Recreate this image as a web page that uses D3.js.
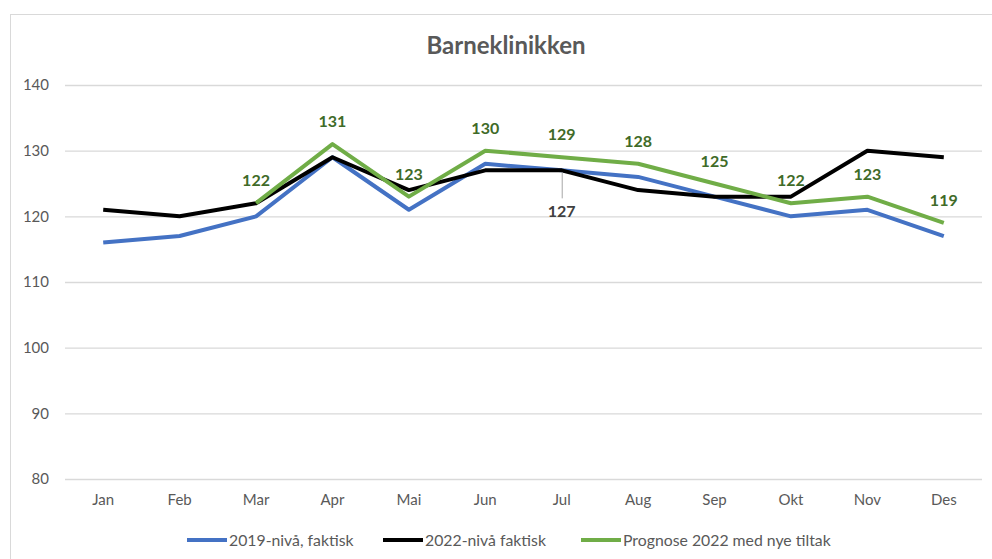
<!DOCTYPE html>
<html lang="no">
<head>
<meta charset="utf-8">
<title>Barneklinikken</title>
<style>
  body { margin: 0; background: #fff; }
  text { font-family: Lato, "Open Sans", Arial, sans-serif; }
  .tick text { fill: #595959; font-size: 15px; }
  .title { fill: #595959; font-size: 24px; font-weight: bold; text-anchor: middle; }
  .lbl { font-size: 16px; font-weight: bold; text-anchor: middle; }
  .legend text { fill: #595959; font-size: 15.8px; }
</style>
</head>
<body>
<div id="chart"></div>
<script src="https://cdn.jsdelivr.net/npm/d3@7"></script>
<script>
var months = ["Jan", "Feb", "Mar", "Apr", "Mai", "Jun", "Jul", "Aug", "Sep", "Okt", "Nov", "Des"];
var yTicks = [80, 90, 100, 110, 120, 130, 140];
var level2019 = [116, 117, 120, 129, 121, 128, 127, 126, 123, 120, 121, 117];
var actual2022 = [121, 120, 122, 129, 124, 127, 127, 124, 123, 123, 130, 129];
var forecast2022 = [null, null, 122, 131, 123, 130, 129, 128, 125, 122, 123, 119];
var seriesNames = ["2019-nivå, faktisk", "2022-nivå faktisk", "Prognose 2022 med nye tiltak"];
var seriesColors = ["#4472C4", "#000000", "#70AD47"];

var W = 992, H = 559,
    margin = {top: 85, right: 10, bottom: 80, left: 65},
    plotW = 982 - margin.left,
    plotH = 479 - margin.top;

var svg = d3.select("#chart").append("svg")
    .attr("width", W).attr("height", H);

// chart frame
svg.append("rect")
   .attr("x", 10.5).attr("y", 14.5)
   .attr("width", 990).attr("height", 600)
   .attr("fill", "none").attr("stroke", "#d9d9d9");

svg.append("text").attr("class", "title")
   .attr("x", 506).attr("y", 54)
   .text("Barneklinikken");

var x = d3.scaleBand().domain(months).range([0, plotW]);
var y = d3.scaleLinear().domain([80, 140]).range([plotH, 0]);

var plt = svg.append("g").attr("transform", "translate(" + margin.left + "," + margin.top + ")");

// gridlines
plt.append("g").selectAll("line").data(yTicks).enter().append("line")
   .attr("x1", 0).attr("x2", plotW)
   .attr("y1", function(d){ return y(d) + 0.5; })
   .attr("y2", function(d){ return y(d) + 0.5; })
   .attr("stroke", "#d9d9d9").attr("stroke-width", 1.3);

var yAxis = plt.append("g")
   .call(d3.axisLeft(y).tickValues(yTicks).tickSize(0).tickPadding(16));
yAxis.select(".domain").remove();

var xAxis = plt.append("g").attr("transform", "translate(0," + plotH + ")")
   .call(d3.axisBottom(x).tickSize(0).tickPadding(15));
xAxis.select(".domain").remove();

var cx = function(i){ return x(months[i]) + x.bandwidth() / 2; };

var line = d3.line()
   .defined(function(d){ return d != null; })
   .x(function(d, i){ return cx(i); })
   .y(function(d){ return y(d); });

[level2019, actual2022, forecast2022].forEach(function(s, k){
  plt.append("path").datum(s)
     .attr("d", line)
     .attr("fill", "none")
     .attr("stroke", seriesColors[k])
     .attr("stroke-width", 4)
     .attr("stroke-linejoin", "round");
});

// forecast labels
plt.append("g").selectAll("text")
   .data(forecast2022.map(function(v, i){ return {v: v, i: i}; }).filter(function(d){ return d.v != null; }))
   .enter().append("text")
   .attr("class", "lbl")
   .attr("fill", "#3f6b28")
   .attr("x", function(d){ return cx(d.i); })
   .attr("y", function(d){ return y(d.v) - 17; })
   .text(function(d){ return d.v; });

// Jul label for 2022 with leader line
var jul = 6;
plt.append("line")
   .attr("x1", cx(jul) + 0.5).attr("x2", cx(jul) + 0.5)
   .attr("y1", y(actual2022[jul]) + 2).attr("y2", y(actual2022[jul]) + 28)
   .attr("stroke", "#a6a6a6").attr("stroke-width", 1);
plt.append("text").attr("class", "lbl").attr("fill", "#404040")
   .attr("x", cx(jul)).attr("y", y(actual2022[jul]) + 47)
   .text(actual2022[jul]);

// legend
var legendX = [187, 383, 581];
var legend = svg.append("g").attr("class", "legend");
seriesNames.forEach(function(name, k){
  legend.append("line")
     .attr("x1", legendX[k]).attr("x2", legendX[k] + 40)
     .attr("y1", 540).attr("y2", 540)
     .attr("stroke", seriesColors[k]).attr("stroke-width", 4);
  legend.append("text")
     .attr("x", legendX[k] + 42).attr("y", 545.5)
     .text(name);
});
</script>
</body>
</html>
